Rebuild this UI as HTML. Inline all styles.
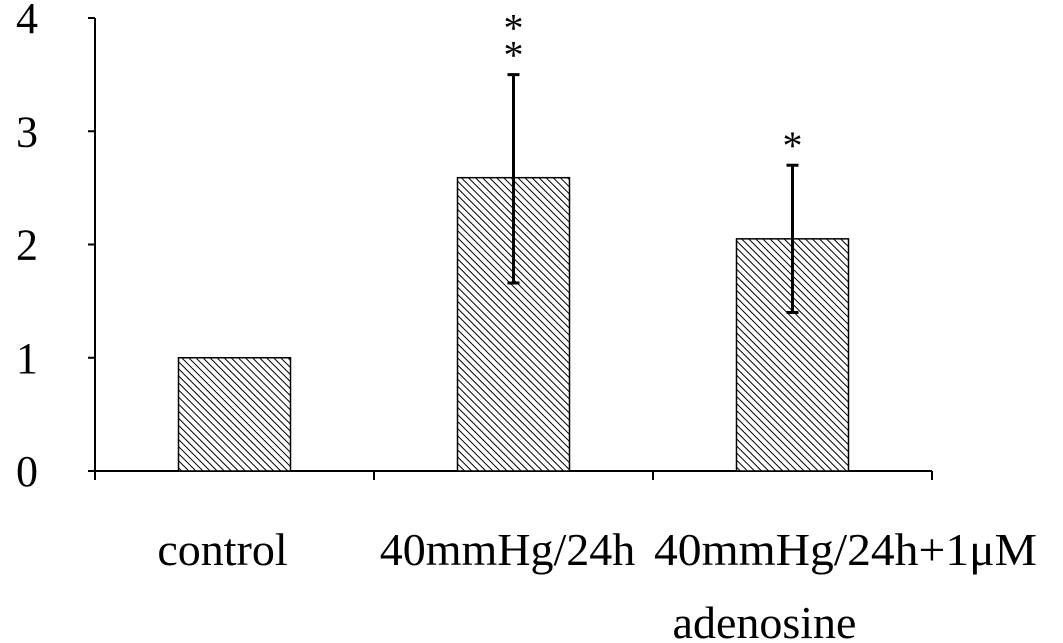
<!DOCTYPE html>
<html><head><meta charset="utf-8"><style>body{margin:0;background:#fff}svg{display:block}text{font-family:"Liberation Serif",serif;fill:#000}</style></head>
<body>
<svg id="chart" width="1063" height="643">
<defs><pattern id="hatch" width="5" height="5" patternUnits="userSpaceOnUse" patternTransform="rotate(-45)"><rect width="5" height="5" fill="#fff"/><line x1="0" y1="0" x2="0" y2="5" stroke="#000" stroke-width="2"/></pattern></defs>
</svg>
<script>
const categories=["control","40mmHg/24h","40mmHg/24h+1\u03bcM|adenosine"];
const values=[1.0,2.59,2.05];
const errHigh=[null,3.5,2.7];
const errLow=[null,1.66,1.4];
const stars=["","*|*","*"];
const yTicks=[0,1,2,3,4];
const svg=document.getElementById('chart');const NS='http://www.w3.org/2000/svg';
function y(v){return 471-v*113.25;}
function bandX(i){return 95+i*279+139.5;}
function mk(t,a,p){const e=document.createElementNS(NS,t);for(const k in a)e.setAttribute(k,a[k]);(p||svg).appendChild(e);return e;}
let ax=mk('line',{x1:95,y1:18,x2:95,y2:472,stroke:'#000','stroke-width':2});


let xa=mk('line',{x1:94,y1:471,x2:932,y2:471,stroke:'#000','stroke-width':2});


yTicks.forEach(t=>{
 let l=mk('line',{x1:88,y1:y(t),x2:95,y2:y(t),stroke:'#000','stroke-width':2});
 
 
 let tx=mk('text',{x:27,y:y(t)+15,'font-size':44,'text-anchor':'middle'});tx.textContent=t;
 
 
});
for(let i=0;i<=3;i++){let l=mk('line',{x1:95+i*279,y1:471,x2:95+i*279,y2:480,stroke:'#000','stroke-width':2});
 
 }
const labelShift=[[-12],[-6],[53,-28]];
categories.forEach((c,i)=>{
 const cx=bandX(i);
 let r=mk('rect',{x:cx-56,y:y(values[i]),width:112,height:y(0)-y(values[i]),fill:'url(#hatch)',stroke:'#000','stroke-width':1.5});
 
 
 if(errHigh[i]!=null){
  let g=mk('g',{});
  
  
  mk('line',{x1:cx,y1:y(errHigh[i]),x2:cx,y2:y(errLow[i]),stroke:'#000','stroke-width':3},g);
  mk('line',{x1:cx-6,y1:y(errHigh[i]),x2:cx+6,y2:y(errHigh[i]),stroke:'#000','stroke-width':3},g);
  mk('line',{x1:cx-6,y1:y(errLow[i]),x2:cx+6,y2:y(errLow[i]),stroke:'#000','stroke-width':3},g);
  const st=stars[i].split('|');
  st.forEach((s,j)=>{let t=mk('text',{x:cx,y:y(errHigh[i])-33-(st.length-1-j)*27+27,'font-size':40,'text-anchor':'middle'});t.textContent=s;
   
   });
 }
 c.split('|').forEach((line,j)=>{const a={x:cx+labelShift[i][j],y:565+j*73,'font-size':46,'text-anchor':'middle'};
  if(i==2&&j==0){a.textLength=383;a.lengthAdjust='spacingAndGlyphs';}
  let t=mk('text',a);t.textContent=line;
  
  });
});
</script>
</body></html>
